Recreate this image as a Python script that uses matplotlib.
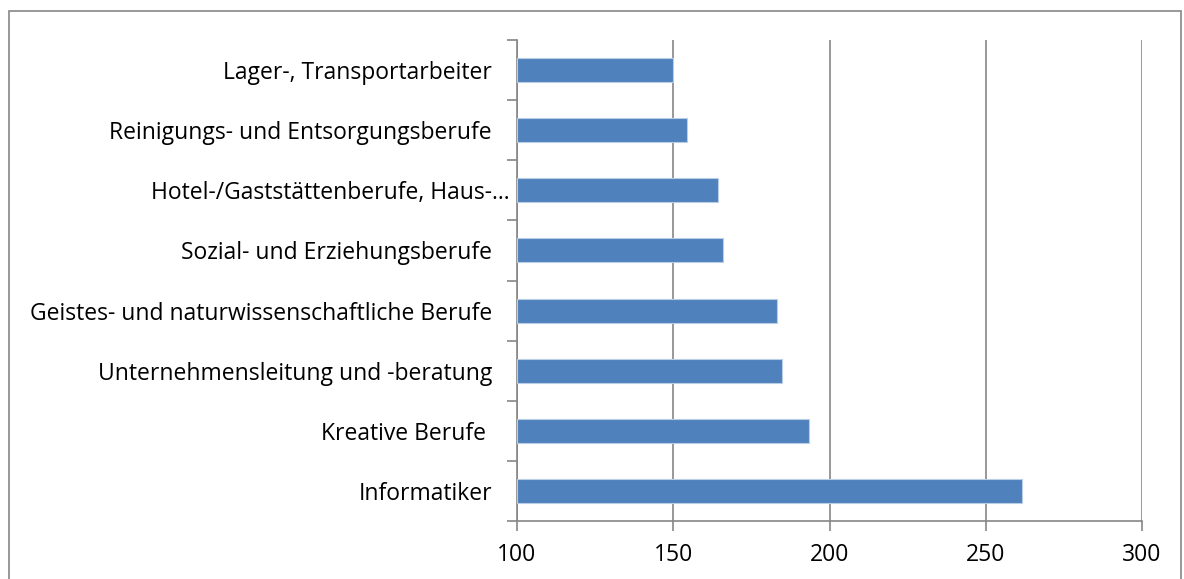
import matplotlib.pyplot as plt
from matplotlib.patches import Rectangle
from matplotlib.transforms import ScaledTranslation

# Werte (von unten nach oben)
berufe = [
    "Informatiker",
    "Kreative Berufe ",
    "Unternehmensleitung und -beratung",
    "Geistes- und naturwissenschaftliche Berufe",
    "Sozial- und Erziehungsberufe",
    "Hotel-/Gaststättenberufe, Haus-…",
    "Reinigungs- und Entsorgungsberufe",
    "Lager-, Transportarbeiter",
]
werte = [261.5, 193.5, 184.8, 183.2, 165.8, 164.2, 154.5, 149.9]
x_ticks = [100, 150, 200, 250, 300]

plt.rcParams['font.family'] = ['Open Sans', 'DejaVu Sans']

fig = plt.figure(figsize=(11.84, 5.79), dpi=100)
ax = fig.add_axes([517 / 1184, 1 - 521 / 579, 625 / 1184, 481 / 579])

pos = list(range(len(berufe)))
ax.barh(pos, [w - 100 for w in werte], left=100, height=0.4,
        color='#4f81bd', edgecolor='#b9cde5', linewidth=0.8, zorder=3)

ax.set_xlim(100, 300)
ax.set_ylim(-0.5, len(berufe) - 0.5)
ax.set_xticks(x_ticks)
ax.set_xticklabels([str(t) for t in x_ticks], fontsize=16.5)
ax.grid(axis='x', color='#868686', linewidth=1.2, zorder=1)

# Kategorie-Beschriftungen ohne Tickstriche, Tickstriche an den Grenzen
ax.set_yticks(pos)
ax.set_yticklabels(berufe, fontsize=16.5)
ax.tick_params(axis='y', length=0, pad=18)
ax.set_yticks([p + 0.5 for p in pos[:-1]] + [-0.5, len(berufe) - 0.5], minor=True)
ax.tick_params(axis='y', which='minor', length=7, color='#868686', width=1.2)
ax.tick_params(axis='x', length=7, color='#868686', width=1.2, pad=9)

# gekürzte Beschriftung sitzt näher an der Achse (wie in Excel)
lbl = ax.get_yticklabels()[5]
lbl.set_transform(lbl.get_transform() + ScaledTranslation(0.18, 0, fig.dpi_scale_trans))

for s in ['top', 'right']:
    ax.spines[s].set_visible(False)
for s in ['left', 'bottom']:
    ax.spines[s].set_color('#868686')
    ax.spines[s].set_linewidth(1.2)

# Rahmen um das Diagramm
fig.patches.append(Rectangle((9 / 1184, -0.05), 1172 / 1184, 1.05 - 11 / 579,
                             transform=fig.transFigure, fill=False,
                             edgecolor='#868686', linewidth=1.2))

fig.savefig('out.png', dpi=100, facecolor='white')
